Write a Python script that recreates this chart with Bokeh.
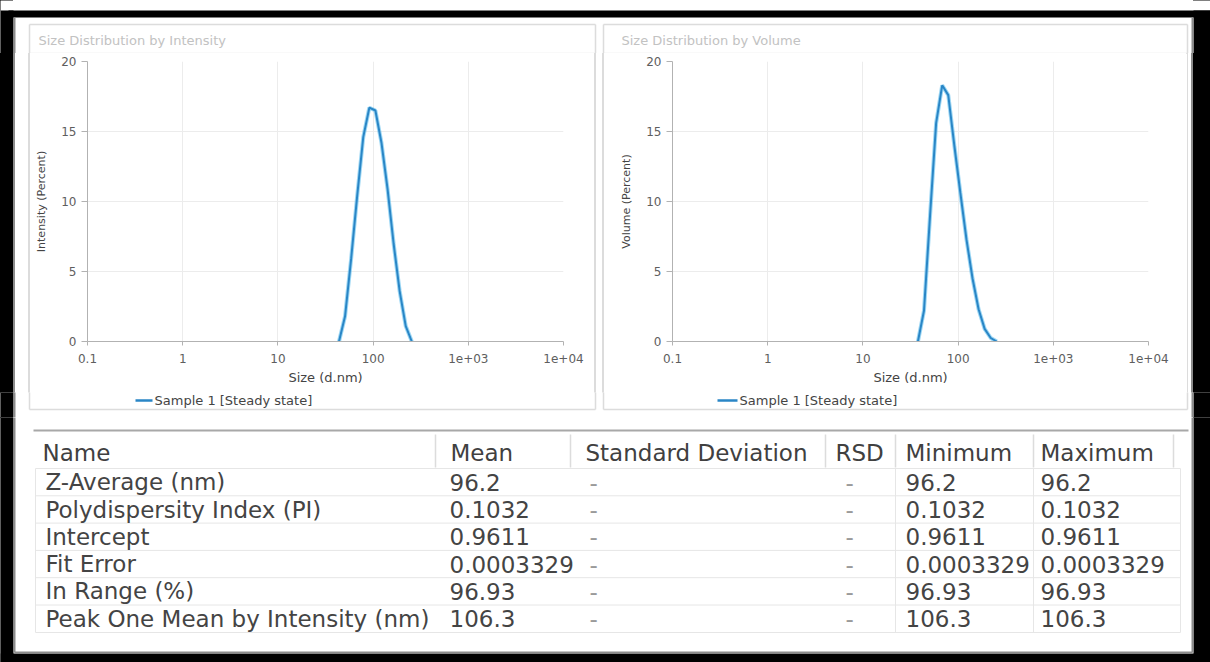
from bokeh.plotting import figure
from bokeh.layouts import column, row
from bokeh.models import FixedTicker, ColumnDataSource, Range1d, Div
from bokeh.embed import file_html
from bokeh.resources import INLINE
from bokeh.core.properties import value

# ---------------- data ----------------
size_intensity_nm = [43.82, 50.75, 58.77, 68.06, 78.82, 91.28, 105.7, 122.4, 141.8, 164.2, 190.1, 220.2, 255.0]
intensity_percent = [0.0, 1.8, 5.9, 10.4, 14.6, 16.7, 16.5, 14.2, 10.9, 7.0, 3.6, 1.1, 0.0]

size_volume_nm = [37.84, 43.82, 50.75, 58.77, 68.06, 78.82, 91.28, 105.7, 122.4, 141.8, 164.2, 190.1, 220.2, 255.0]
volume_percent = [0.0, 2.2, 9.0, 15.6, 18.3, 17.6, 14.0, 10.6, 7.3, 4.5, 2.3, 0.9, 0.25, 0.0]

x_tick_values = [0.1, 1, 10, 100, 1000, 10000]
x_tick_labels = ["0.1", "1", "10", "100", "1e+03", "1e+04"]
y_tick_values = [0, 5, 10, 15, 20]
chart_titles = ["Size Distribution by Intensity", "Size Distribution by Volume"]
y_labels = ["Intensity (Percent)", "Volume (Percent)"]
x_label = "Size (d.nm)"
series_label = "Sample 1 [Steady state]"

table_headers = ["Name", "Mean", "Standard Deviation", "RSD", "Minimum", "Maximum"]
row_names = ["Z-Average (nm)", "Polydispersity Index (PI)", "Intercept", "Fit Error",
             "In Range (%)", "Peak One Mean by Intensity (nm)"]
mean_values = ["96.2", "0.1032", "0.9611", "0.0003329", "96.93", "106.3"]
std_values = ["-", "-", "-", "-", "-", "-"]
rsd_values = ["-", "-", "-", "-", "-", "-"]
min_values = ["96.2", "0.1032", "0.9611", "0.0003329", "96.93", "106.3"]
max_values = ["96.2", "0.1032", "0.9611", "0.0003329", "96.93", "106.3"]

FONT = "DejaVu Sans"
LINE = "#2a86c6"
HALO = "#5cbdec"
PANEL = "#dcdcdc"
GREY = "#8c8c8c"


def strip(x0, x1, y0, y1):
    """A plain figure whose data coordinates are page pixels (y down)."""
    p = figure(width=x1 - x0, height=y1 - y0, x_range=Range1d(x0, x1), y_range=Range1d(y1, y0),
               min_border=0, toolbar_location=None, output_backend="svg", title=None,
               x_axis_location=None, y_axis_location=None, outline_line_color=None,
               background_fill_color="white", border_fill_color="white")
    p.xgrid.visible = False
    p.ygrid.visible = False
    return p


def decorations(p):
    # black screenshot frame
    p.quad(left=[0, 1193, 8, 0], right=[13, 1210, 1210, 1210], top=[10, 10, 10, 653],
           bottom=[662, 662, 17, 662], fill_color="black", line_color=None)
    # grey window border
    p.segment(x0=[14, 1192, 14], y0=[17, 17, 652], x1=[14, 1192, 1192], y1=[652, 652, 652],
              line_color=GREY, line_width=2)
    # chart panel boxes
    bx0 = [29, 595, 29, 29, 603, 1187, 603, 603]
    by0 = [24, 24, 24, 409, 24, 24, 24, 409]
    bx1 = [29, 595, 595, 595, 603, 1187, 1187, 1187]
    by1 = [409, 409, 24, 409, 409, 409, 24, 409]
    p.segment(x0=bx0, y0=by0, x1=bx1, y1=by1, line_color=PANEL, line_width=1.5)
    # title separators
    p.segment(x0=[29, 603], y0=[53, 53], x1=[595, 1187], y1=[53, 53], line_color="#e6e6e6", line_width=1.5)


def gradient(width, bands):
    stops = []
    pos = 0.0
    for l, w, c in bands:
        stops.append(f"#ffffff {pos}px, #ffffff {l}px")
        stops.append(f"{c} {l}px, {c} {l + w}px")
        pos = l + w
    stops.append(f"#ffffff {pos}px, #ffffff {width}px")
    return "linear-gradient(to right, " + ", ".join(stops) + ")"


def side_div(width, height, bands):
    ext = height + 10
    inner = "".join(
        f'<div style="position:absolute;left:{l}px;top:0;width:{w}px;height:{ext}px;background:{c}"></div>'
        for l, w, c in bands)
    html = (f'<div style="position:relative;width:{width}px;height:{height}px;overflow:visible;'
            f'margin:0;padding:0">{inner}</div>')
    return Div(text=html, width=width, height=height, margin=0,
               styles={"padding": "0", "margin": "0", "background": gradient(width, bands),
                       "overflow": "visible"})


def make_chart(ylabel, sizes, pcts, border_left, border_right):
    p = figure(x_axis_type="log", x_range=Range1d(0.1, 10000), y_range=Range1d(0, 20),
               frame_width=476, frame_height=280, title=None,
               min_border_left=border_left, min_border_right=border_right,
               min_border_top=8, min_border_bottom=51,
               toolbar_location=None, output_backend="svg",
               background_fill_color="white", border_fill_color="white",
               outline_line_color=None)
    p.xaxis.ticker = FixedTicker(ticks=x_tick_values, minor_ticks=[])
    p.xaxis.major_label_overrides = {v: l for v, l in zip(x_tick_values, x_tick_labels)}
    p.yaxis.ticker = FixedTicker(ticks=y_tick_values, minor_ticks=[])
    p.xgrid.ticker = FixedTicker(ticks=x_tick_values, minor_ticks=[])
    p.ygrid.ticker = FixedTicker(ticks=y_tick_values, minor_ticks=[])
    p.xgrid.grid_line_color = "#ececec"
    p.ygrid.grid_line_color = "#ececec"
    for ax in (p.xaxis[0], p.yaxis[0]):
        ax.axis_line_color = "#b2b2b2"
        ax.major_tick_line_color = "#b2b2b2"
        ax.minor_tick_line_color = None
        ax.major_tick_in = 0
        ax.major_label_text_font = FONT
        ax.major_label_text_font_size = "12px"
        ax.major_label_text_color = "#5e5e5e"
        ax.axis_label_text_font = FONT
        ax.axis_label_text_font_style = "normal"
        ax.axis_label_text_color = "#444444"
    p.xaxis.major_tick_out = 4
    p.xaxis.major_label_standoff = 8
    p.xaxis.axis_label = x_label
    p.xaxis.axis_label_text_font_size = "13px"
    p.xaxis.axis_label_standoff = 4
    p.yaxis.major_tick_out = 6
    p.yaxis.major_label_standoff = 5
    p.yaxis.axis_label = ylabel
    p.yaxis.axis_label_text_font_size = "11px"
    p.yaxis.axis_label_standoff = 10

    src = ColumnDataSource(dict(size=sizes, pct=pcts))
    p.line("size", "pct", source=src, line_color=HALO, line_width=4, line_alpha=0.6)
    p.line("size", "pct", source=src, line_color=LINE, line_width=2)
    return p


ROW_H = 339  # page y 53..392

# ---------------- top strip: titles ----------------
top = strip(0, 1210, 0, 53)
decorations(top)
top.text(x=[38, 621], y=[40, 40], text=chart_titles, text_font=value(FONT), text_font_size=value("13px"),
         text_color="#c2c2c2", text_baseline="middle", text_align="left")

# ---------------- chart row ----------------
left_edge = side_div(30, ROW_H, [(0, 13, "#000000"), (13, 2, GREY), (28.25, 1.5, PANEL)])        # page x 0..30
p1 = make_chart(y_labels[0], size_intensity_nm, intensity_percent, 57, 31)                          # page x 30..594
mid_edge = side_div(10, ROW_H, [(0.25, 1.5, PANEL), (8.25, 1.5, PANEL)])                           # page x 594..604
p2 = make_chart(y_labels[1], size_volume_nm, volume_percent, 68, 39)                                # page x 604..1187
right_edge = side_div(23, ROW_H, [(0, 0.75, PANEL), (4, 2, GREY), (6, 17, "#000000")])            # page x 1187..1210

page_bands = [(0, 13, "#000000"), (13, 2, GREY), (28.25, 1.5, PANEL), (594.25, 1.5, PANEL),
              (602.25, 1.5, PANEL), (1186.25, 1.5, PANEL), (1191, 2, GREY), (1193, 17, "#000000")]
chart_row = row(left_edge, p1, mid_edge, p2, right_edge,
                styles={"background": gradient(1210, page_bands)})

# ---------------- legend strip (page y 392..417) ----------------
leg = strip(0, 1210, 392, 417)
decorations(leg)
leg.segment(x0=[135, 717], y0=[400, 400], x1=[152, 737], y1=[400, 400], line_color=LINE, line_width=2.5)
leg.text(x=[154, 739], y=[400, 400], text=[series_label, series_label], text_font=value(FONT),
         text_font_size=value("13px"), text_color="#444444", text_baseline="middle", text_align="left")

# ---------------- table (page y 417..662) ----------------
t = strip(0, 1210, 417, 662)
decorations(t)
t.segment(x0=[33], y0=[430], x1=[1188], y1=[430], line_color="#a8a8a8", line_width=2)
hdr_sep = [435, 570, 825, 895, 1033, 1173]
t.segment(x0=hdr_sep, y0=[434] * 6, x1=hdr_sep, y1=[467] * 6, line_color="#dcdcdc", line_width=1.5)

row_y = [481.7 + 27.3 * i for i in range(len(row_names))]
sep_y = [468] + [495.3 + 27.3 * i for i in range(5)] + [632]
t.segment(x0=[35] * len(sep_y), y0=sep_y, x1=[1180] * len(sep_y), y1=sep_y,
          line_color="#e6e6e6", line_width=1)
body_v = [35, 895, 1033, 1180]
t.segment(x0=body_v, y0=[468] * 4, x1=body_v, y1=[632] * 4, line_color="#e6e6e6", line_width=1)

hdr_x = [42, 450, 585, 835, 905, 1040]
t.text(x=hdr_x, y=[452] * 6, text=table_headers, text_font=value(FONT),
       text_font_size=value("23px"), text_color="#404040", text_baseline="middle", text_align="left")

cols = [(45, row_names, "#444444"), (449, mean_values, "#444444"), (589, std_values, "#9a9a9a"),
        (845, rsd_values, "#9a9a9a"), (905, min_values, "#444444"), (1040, max_values, "#444444")]
for cx, vals, col in cols:
    src = ColumnDataSource(dict(x=[cx] * len(vals), y=row_y, text=vals))
    t.text(x="x", y="y", text="text", source=src, text_font=value(FONT),
           text_font_size=value("23px"), text_color=col, text_baseline="middle", text_align="left")

layout = column(top, chart_row, leg, t,
                styles={"background": gradient(1210, [(0, 13, "#000000"), (1193, 17, "#000000")])})
open("out.html", "w").write(file_html(layout, INLINE))
